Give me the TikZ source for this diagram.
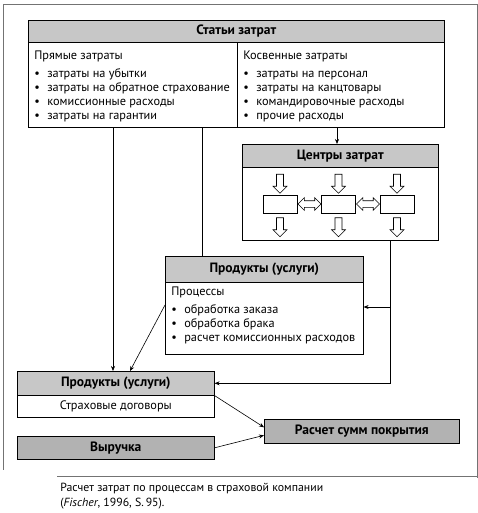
\documentclass[tikz,border=0pt]{standalone}
\usepackage{fontspec}
\setmainfont{PT Sans}
\usetikzlibrary{arrows.meta,shapes.arrows}
\newcommand{\itm}[1]{\makebox[13pt][l]{\textbullet}#1}

\begin{document}
\begin{tikzpicture}[x=1pt, y=-1pt, line width=0.6pt,
  font=\fontsize{12.3}{14}\selectfont,
  head/.style={draw, fill=black!22, font=\fontsize{13.5}{14}\selectfont\bfseries, anchor=north west, inner sep=0pt},
  body/.style={draw, anchor=north west, inner sep=0pt},
  txt/.style={anchor=north west, align=left, inner sep=0pt},
  hol/.style={draw, single arrow, single arrow head extend=3.5pt, inner sep=3.2pt, minimum height=19pt, shape border rotate=270},
  hol2/.style={draw, double arrow, double arrow head extend=3pt, inner sep=3pt, minimum height=23pt},
  >={Stealth[length=5pt,width=4pt]}]
\useasboundingbox (0,0) rectangle (478,513);

% page frame
\draw[black!55] (3,4) -- (477,4);
\draw[black!55] (3,4) -- (3,470);
\draw[black!55] (477,4) -- (477,478);
\draw[black!55] (57,476) -- (478,476);

% cost items
\node[head, minimum width=416, minimum height=22] (costs) at (28,20) {Статьи затрат};
\node[body, minimum width=209, minimum height=85] (direct) at (28,42) {};
\node[body, minimum width=207, minimum height=85] (indirect) at (237,42) {};
\node[txt] at (34,51) {Прямые затраты\\[4pt]
  \itm{затраты на убытки}\\
  \itm{затраты на обратное страхование}\\
  \itm{комиссионные расходы}\\
  \itm{затраты на гарантии}};
\node[txt] at (243,51) {Косвенные затраты\\[4pt]
  \itm{затраты на персонал}\\
  \itm{затраты на канцтовары}\\
  \itm{командировочные расходы}\\
  \itm{прочие расходы}};

% cost centers
\node[head, minimum width=196, minimum height=23] (centers) at (242,144) {Центры затрат};
\node[body, minimum width=196, minimum height=73] (cbody) at (242,167) {};
\node[draw, minimum width=34, minimum height=18] (c1) at (280,204) {};
\node[draw, minimum width=34, minimum height=18] (c2) at (338.5,204) {};
\node[draw, minimum width=34, minimum height=18] (c3) at (397,204) {};
\foreach \x in {280,338.5,397} {
  \node[hol] at (\x,182) {};
  \node[hol] at (\x,225.5) {};
}
\node[hol2] at (309.5,204) {};
\node[hol2] at (368,204) {};

% processes
\node[head, minimum width=198, minimum height=26] (procs) at (165,256) {Продукты (услуги)};
\node[body, minimum width=198, minimum height=72] (pbody) at (165,282) {};
\node[txt] at (171,287) {Процессы\\[4pt]
  \itm{обработка заказа}\\
  \itm{обработка брака}\\
  \itm{расчет комиссионных расходов}};

% products
\node[head, minimum width=197, minimum height=24] (prod) at (17,371) {Продукты (услуги)};
\node[body, minimum width=197, minimum height=22] (contracts) at (17,395) {Страховые договоры};
\node[head, fill=black!30, minimum width=197, minimum height=23] (rev) at (17,436) {Выручка};
\node[head, fill=black!30, minimum width=195, minimum height=24] (margin) at (264,419) {Расчет сумм покрытия};

% connectors
\draw[->] (113,0 |- direct.south) -- (113,0 |- prod.north);
\draw (202,0 |- direct.south) -- (202,0 |- procs.north);
\draw[->] (337,0 |- indirect.south) -- (337,0 |- centers.north);
\coordinate (t) at (390,307);
\draw[->] (390,0 |- cbody.south) |- (prod.east);
\draw[->] (t) -- (t -| pbody.east);
\draw[->] (pbody.west |- 0,305) -- (130,0 |- prod.north);
\draw[->] (prod.south east) -- ([yshift=4pt]margin.west);
\draw[->] (rev.east) -- ([yshift=-4pt]margin.west);

% caption
\node[txt, font=\fontsize{11.8}{15}\selectfont] (cap) at (60,483) {Расчет затрат по процессам в страховой компании\\(\textit{Fischer}, 1996, S.\,95).};
\end{tikzpicture}
\end{document}
